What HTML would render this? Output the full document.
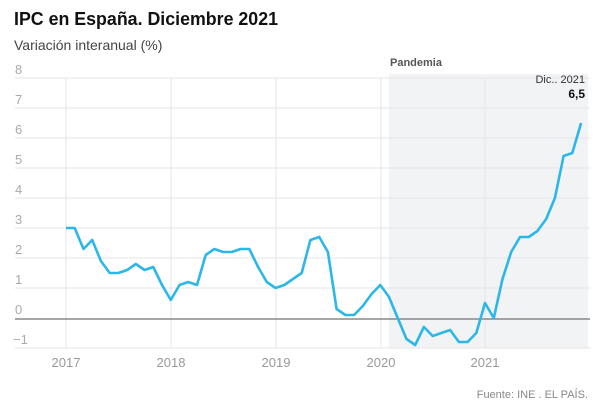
<!DOCTYPE html>
<html><head><meta charset="utf-8"><style>
body{margin:0;background:#fff;width:600px;height:408px;overflow:hidden;font-family:"Liberation Sans",sans-serif}
</style></head><body>
<svg width="600" height="408" xmlns="http://www.w3.org/2000/svg" font-family="Liberation Sans, sans-serif">
<text x="14" y="25" font-size="18" font-weight="bold" fill="#111" textLength="264" lengthAdjust="spacingAndGlyphs">IPC en España. Diciembre 2021</text>
<text x="14" y="50" font-size="14" fill="#444">Variación interanual (%)</text>
<rect x="389" y="74" width="199" height="274" fill="#f1f3f5"/>
<text x="390" y="66" font-size="11" font-weight="bold" fill="#555">Pandemia</text>
<g stroke="#e6e6e6" stroke-width="1">
<line x1="15" y1="78" x2="590" y2="78"/><line x1="15" y1="108" x2="590" y2="108"/>
<line x1="15" y1="138" x2="590" y2="138"/><line x1="15" y1="168" x2="590" y2="168"/>
<line x1="15" y1="198" x2="590" y2="198"/><line x1="15" y1="228" x2="590" y2="228"/>
<line x1="15" y1="258" x2="590" y2="258"/><line x1="15" y1="288" x2="590" y2="288"/>
<line x1="15" y1="348" x2="590" y2="348"/>
<line x1="66" y1="78" x2="66" y2="348"/><line x1="171" y1="78" x2="171" y2="348"/>
<line x1="276" y1="78" x2="276" y2="348"/><line x1="381" y1="78" x2="381" y2="348"/>
<line x1="485" y1="78" x2="485" y2="348"/>
</g>
<line x1="15" y1="319" x2="590" y2="319" stroke="#888" stroke-width="1.5"/>
<g font-size="13" fill="#aaa">
<text x="15" y="74">8</text><text x="15" y="104">7</text><text x="15" y="134">6</text>
<text x="15" y="164">5</text><text x="15" y="194">4</text><text x="15" y="224">3</text>
<text x="15" y="254">2</text><text x="15" y="284">1</text><text x="15" y="314">0</text>
<text x="13" y="344">−1</text>
</g>
<g font-size="13" fill="#999" text-anchor="middle">
<text x="66" y="367">2017</text><text x="171" y="367">2018</text><text x="276" y="367">2019</text>
<text x="381" y="367">2020</text><text x="485" y="367">2021</text>
</g>
<polyline id="p" fill="none" stroke="#2cb7e8" stroke-width="2.6" stroke-linejoin="round" points=""/>
<text x="585" y="83" font-size="11" fill="#333" text-anchor="end">Dic.. 2021</text>
<text x="585" y="98" font-size="12" font-weight="bold" fill="#111" text-anchor="end">6,5</text>
<text x="588" y="398" font-size="11" fill="#888" text-anchor="end">Fuente: INE . EL PAÍS.</text>
<script>
var d=[3.0,3.0,2.3,2.6,1.9,1.5,1.5,1.6,1.8,1.6,1.7,1.1,
0.6,1.1,1.2,1.1,2.1,2.3,2.2,2.2,2.3,2.3,1.7,1.2,
1.0,1.1,1.3,1.5,2.6,2.7,2.2,0.3,0.1,0.1,0.4,0.8,
1.1,0.7,0.0,-0.7,-0.9,-0.3,-0.6,-0.5,-0.4,-0.8,-0.8,-0.5,
0.5,0.0,1.3,2.2,2.7,2.7,2.9,3.3,4.0,5.4,5.5,6.5];
document.getElementById('p').setAttribute('points',d.map(function(v,i){return (66+i*8.73).toFixed(1)+','+(318-v*30).toFixed(1)}).join(' '));
</script>
</svg>
</body></html>
